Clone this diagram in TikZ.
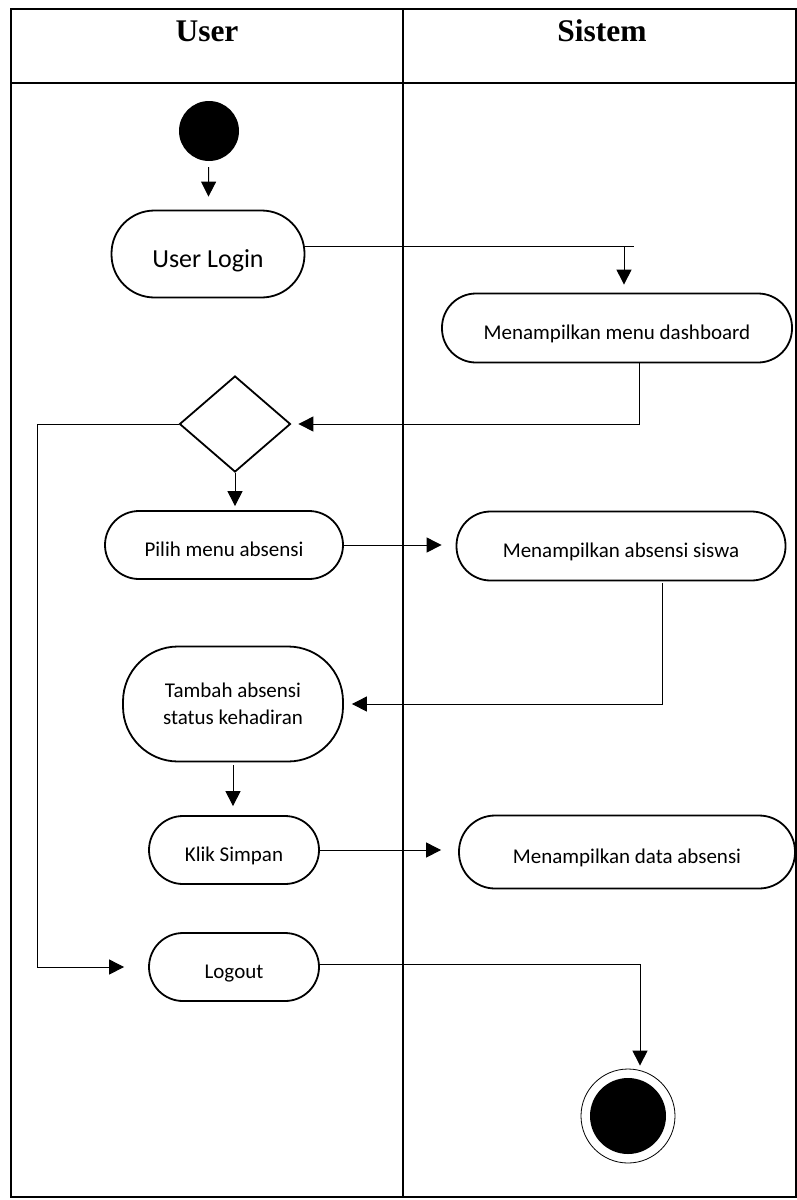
\documentclass[tikz,border=0pt]{standalone}
\usepackage{fontspec}
\setmainfont{Carlito}
\newfontfamily\headfont{Liberation Serif}
\usetikzlibrary{arrows.meta,shapes.geometric}

\begin{document}
\begin{tikzpicture}[
    x=1pt, y=-1pt,
    lane/.style={line width=1.6pt},
    head/.style={font=\headfont\bfseries\fontsize{31.5}{38}\selectfont},
    act/.style={draw, rectangle, rounded corners=34pt, line width=1.8pt, align=center, inner sep=0pt, font=\fontsize{21}{27}\selectfont},
    oneline/.style={text height=23pt, text depth=0pt},
    decision/.style={draw, diamond, aspect=1.16, line width=1.8pt, minimum width=111pt, minimum height=96pt, inner sep=0pt},
    arrow/.style={-{Triangle[length=15pt,width=15pt]}, line width=1pt}
]
\useasboundingbox (0,0) rectangle (797,1200);
\draw[lane] (11,9) rectangle (796,1197);
\draw[lane] (11,83) -- (796,83);
\draw[lane] (403,9) -- (403,1197);
\node[head] (user) at (207,31) {User};
\node[head] (sistem) at (602,31) {Sistem};

\node[circle, fill, minimum size=60pt, inner sep=0pt] (start) at (209,131) {};
\node[act, oneline, minimum width=193pt, minimum height=87pt, rounded corners=43pt, font=\fontsize{26}{30}\selectfont, text height=27pt] (login) at (208,254) {User Login};
\node[act, oneline, minimum width=350pt, minimum height=69pt] (dash) at (617,328) {Menampilkan menu dashboard};
\node[decision] (dec) at (235,424) {};
\node[act, oneline, minimum width=238pt, minimum height=68pt] (pilih) at (224,545) {Pilih menu absensi};
\node[act, oneline, minimum width=329pt, minimum height=69pt] (siswa) at (621,546) {Menampilkan absensi siswa};
\node[act, minimum width=220pt, minimum height=115pt, rounded corners=55pt] (tambah) at (233,704) {Tambah absensi\\status kehadiran};
\node[act, oneline, minimum width=170pt, minimum height=68pt] (klik) at (234,850) {Klik Simpan};
\node[act, oneline, minimum width=336pt, minimum height=73pt, rounded corners=36pt] (data) at (627,852) {Menampilkan data absensi};
\node[act, oneline, minimum width=170pt, minimum height=68pt] (logout) at (234,967) {Logout};
\node[circle, draw, line width=0.8pt, minimum size=94pt, inner sep=0pt,
    path picture={\fill (path picture bounding box.center) circle (38pt);}] (end) at (628,1116) {};
\coordinate (turn) at (624,246);
\coordinate (back) at (37,424);

\draw[arrow, shorten <=6pt, shorten >=13pt] (start) -- (login);
\draw ([yshift=8pt]login.east) -- ([xshift=10pt]turn);
\draw[arrow, shorten >=8pt] (turn) -- (turn |- dash.north);
\draw[arrow, shorten >=7pt] ([xshift=22pt]dash.south) |- (dec.east);
\draw[arrow, shorten >=24pt] (dec.west) -- (back) |- (logout.west);
\draw[arrow, shorten >=4pt] (dec.south) -- (dec.south |- pilih.north);
\draw[arrow, shorten >=14pt] (pilih.east) -- (pilih.east -| siswa.west);
\draw[arrow, shorten >=8pt] ([xshift=41pt,yshift=-2pt]siswa.south) |- (tambah.east);
\draw[arrow, shorten <=3pt, shorten >=9pt] (tambah.south) -- (tambah.south |- klik.north);
\draw[arrow, shorten >=17pt] (klik.east) -- (klik.east -| data.west);
\draw[arrow, shorten >=3pt] ([yshift=3pt]logout.east) -| ([xshift=12pt]end.north);
\end{tikzpicture}
\end{document}
